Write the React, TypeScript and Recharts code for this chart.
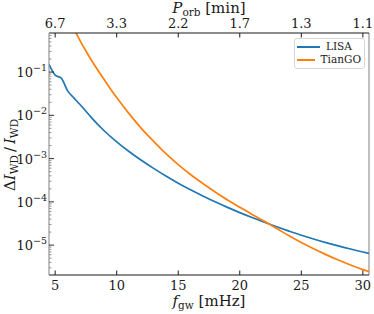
import { LineChart, Line, XAxis, YAxis, Legend, ReferenceLine } from "recharts";

// gravitational-wave frequency in mHz
const freq = [
  4.5, 5, 5.5, 6, 6.5, 7, 7.5, 8, 9, 10, 11, 12, 13, 14, 15, 16, 17, 18, 19,
  20, 21, 22, 23, 24, 25, 26, 27, 28, 29, 30, 30.5,
];
const lisa = [
  0.151, 0.0851, 0.0724, 0.0372, 0.0257, 0.018, 0.01245, 0.00851, 0.004345,
  0.002443, 0.001462, 9.16e-4, 5.94e-4, 3.95e-4, 2.71e-4, 1.905e-4, 1.371e-4,
  1.002e-4, 7.46e-5, 5.65e-5, 4.34e-5, 3.37e-5, 2.65e-5, 2.11e-5, 1.694e-5,
  1.384e-5, 1.146e-5, 9.59e-6, 8.13e-6, 6.95e-6, 6.46e-6,
];
const tiango = [
  null, null, null, null, 1.028, 0.5495, 0.3062, 0.1778, 0.0658, 0.0257,
  0.01096, 0.005012, 0.002512, 0.001306, 7.29e-4, 4.28e-4, 2.65e-4, 1.694e-4,
  1.109e-4, 7.55e-5, 5.13e-5, 3.55e-5, 2.43e-5, 1.64e-5, 1.148e-5, 8.22e-6,
  6.03e-6, 4.52e-6, 3.47e-6, 2.72e-6, 2.43e-6,
];

const fTicks = [5, 10, 15, 20, 25, 30];
const periodLabels = ["6.7", "3.3", "2.2", "1.7", "1.3", "1.1"];
const yMajor = [1e-5, 1e-4, 1e-3, 1e-2, 1e-1];

const data = freq.map((f, i) => ({ f, lisa: lisa[i], tiango: tiango[i] }));

const X_MIN = 4.5;
const X_MAX = 30.5;
const Y_MIN = 2.04e-6;
const Y_MAX = 0.8;
const FONT = "'DejaVu Serif', 'Liberation Serif', serif";
const INK = "#1a1a1a";
const SPINE_GRAY = "#8a8a8a";

const yMinor: number[] = [];
for (let e = -6; e <= -1; e++) {
  for (let m = 2; m <= 9; m++) {
    const v = m * Math.pow(10, e);
    if (v > Y_MIN && v < Y_MAX) yMinor.push(v);
  }
}
const yTicks = [...yMajor, ...yMinor].sort((a, b) => a - b);

const YTick = (props: any) => {
  const { x, y, payload } = props;
  const v = payload.value;
  const exp = Math.round(Math.log10(v));
  const major = Math.abs(v - Math.pow(10, exp)) / v < 1e-6;
  return (
    <g>
      <line
        x1={x}
        x2={x + (major ? 5 : 2.5)}
        y1={y}
        y2={y}
        stroke={major ? INK : SPINE_GRAY}
        strokeWidth={0.9}
      />
      {major && (
        <text
          x={x - 2}
          y={y + 5}
          textAnchor="end"
          fontSize={13}
          fontFamily={FONT}
          fill={INK}
        >
          10
          <tspan dy={-6} fontSize={9.5}>
            {"\u2212" + -exp}
          </tspan>
        </text>
      )}
    </g>
  );
};

const BottomTick = (props: any) => {
  const { x, y, payload } = props;
  return (
    <g>
      <line x1={x} x2={x} y1={y} y2={y - 4.5} stroke={INK} strokeWidth={1} />
      <text
        x={x}
        y={y + 15}
        textAnchor="middle"
        fontSize={13}
        fontFamily={FONT}
        fill={INK}
      >
        {payload.value}
      </text>
    </g>
  );
};

const TopTick = (props: any) => {
  const { x, y, payload } = props;
  const label = periodLabels[fTicks.indexOf(payload.value)];
  return (
    <g>
      <line x1={x} x2={x} y1={y} y2={y + 4.5} stroke={INK} strokeWidth={1} />
      <text
        x={x}
        y={y - 5}
        textAnchor="middle"
        fontSize={13}
        fontFamily={FONT}
        fill={INK}
      >
        {label}
      </text>
    </g>
  );
};

const LegendBox = (props: any) => (
  <div
    style={{
      border: "1px solid #d6d6d6",
      borderRadius: 3,
      background: "white",
      padding: "1px 3px 1px 2px",
      fontFamily: FONT,
      fontSize: 10.5,
      lineHeight: "13.4px",
      color: INK,
    }}
  >
    {props.payload.map((p: any) => (
      <div key={p.value} style={{ display: "flex", alignItems: "center" }}>
        <span
          style={{
            display: "inline-block",
            width: 23,
            borderTop: `2px solid ${p.color}`,
            marginRight: 6,
          }}
        />
        {p.value}
      </div>
    ))}
  </div>
);

export default function App() {
  return (
    <div style={{ position: "absolute", left: 0, top: 0 }}>
      <LineChart
        width={374}
        height={314}
        data={data}
        margin={{ top: 0, right: 5, bottom: 0, left: 9 }}
        style={{ fontFamily: FONT }}
      >
        <XAxis
          dataKey="f"
          type="number"
          domain={[X_MIN, X_MAX]}
          ticks={fTicks}
          height={39}
          tickSize={0}
          tickMargin={0}
          tickLine={false}
          tick={<BottomTick />}
          axisLine={{ stroke: INK, strokeWidth: 1.1 }}
          allowDataOverflow
        />
        <XAxis
          xAxisId="top"
          dataKey="f"
          orientation="top"
          type="number"
          domain={[X_MIN, X_MAX]}
          ticks={fTicks}
          height={33}
          tickSize={0}
          tickMargin={0}
          tickLine={false}
          tick={<TopTick />}
          axisLine={{ stroke: INK, strokeWidth: 1.1 }}
          allowDataOverflow
        />
        <YAxis
          scale="log"
          type="number"
          domain={[Y_MIN, Y_MAX]}
          ticks={yTicks}
          interval={0}
          width={40}
          tickSize={0}
          tickMargin={0}
          tickLine={false}
          tick={<YTick />}
          axisLine={{ stroke: SPINE_GRAY, strokeWidth: 1.1 }}
          allowDataOverflow
        />
        <ReferenceLine x={X_MAX} stroke={SPINE_GRAY} strokeWidth={1.1} />
        <Legend
          layout="horizontal"
          verticalAlign="middle"
          align="center"
          wrapperStyle={{ left: 294, top: 38, width: 71 }}
          content={<LegendBox />}
        />
        <Line
          dataKey="lisa"
          name="LISA"
          type="monotone"
          stroke="#1f77b4"
          strokeWidth={1.7}
          dot={false}
          isAnimationActive={false}
        />
        <Line
          dataKey="tiango"
          name="TianGO"
          type="monotone"
          stroke="#ff7f0e"
          strokeWidth={1.7}
          dot={false}
          connectNulls={false}
          isAnimationActive={false}
        />
        <text
          x={209}
          y={13}
          textAnchor="middle"
          fontSize={15}
          fontFamily={FONT}
          fill={INK}
        >
          <tspan fontStyle="italic">P</tspan>
          <tspan fontSize={10.5} dy={3}>
            orb
          </tspan>
          <tspan dy={-3}> [min]</tspan>
        </text>
        <text
          x={209}
          y={306}
          textAnchor="middle"
          fontSize={15}
          fontFamily={FONT}
          fill={INK}
        >
          <tspan fontStyle="italic">f</tspan>
          <tspan fontSize={10.5} dy={3}>
            gw
          </tspan>
          <tspan dy={-3}> [mHz]</tspan>
        </text>
        <text
          x={14.5}
          y={155}
          transform="rotate(-90 14.5 155)"
          textAnchor="middle"
          fontSize={15}
          fontFamily={FONT}
          fill={INK}
        >
          {"\u0394"}
          <tspan fontStyle="italic">I</tspan>
          <tspan fontSize={10.5} dy={3}>
            WD
          </tspan>
          <tspan dy={-3}>{"\u2009/\u2009"}</tspan>
          <tspan fontStyle="italic">I</tspan>
          <tspan fontSize={10.5} dy={3}>
            WD
          </tspan>
        </text>
      </LineChart>
    </div>
  );
}
